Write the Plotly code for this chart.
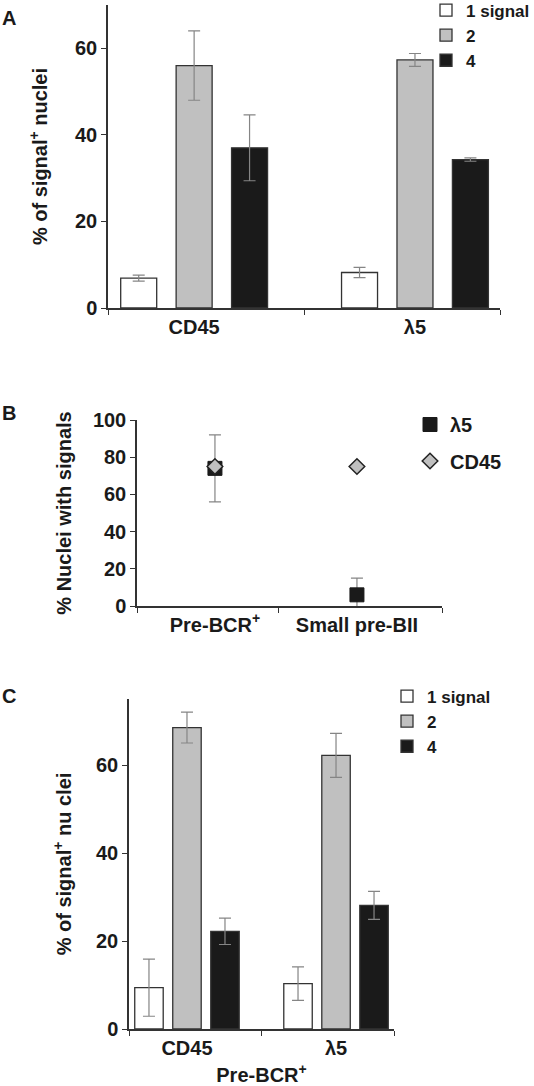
import plotly.graph_objects as go

# ---------------- data ----------------
# Panel A
a_categories = ["CD45", "λ5"]
a_series = ["1 signal", "2", "4"]
a_values = {"1 signal": [6.9, 8.2], "2": [56.0, 57.3], "4": [37.0, 34.3]}
a_errors = {"1 signal": [0.7, 1.2], "2": [8.0, 1.5], "4": [7.6, 0.4]}

# Panel B
b_categories = ["Pre-BCR<sup>+</sup>", "Small pre-BII"]
b_lambda5 = [74.0, 6.0]
b_lambda5_err = [18.0, 9.0]
b_cd45 = [75.0, 75.0]

# Panel C
c_categories = ["CD45", "λ5"]
c_series = ["1 signal", "2", "4"]
c_values = {"1 signal": [9.4, 10.3], "2": [68.5, 62.2], "4": [22.2, 28.1]}
c_errors = {"1 signal": [6.5, 3.8], "2": [3.5, 5.0], "4": [3.0, 3.2]}

# ---------------- styles ----------------
FONT = "Liberation Sans, Arial, Helvetica, sans-serif"
TXT = "#1a1a1a"
AX = "#333333"
fills = {"1 signal": "#ffffff", "2": "#c0c0c0", "4": "#1a1a1a"}
ERR = "#858585"
FS = 20

def bold(size=FS):
    return dict(family=FONT, size=size, color=TXT, weight="bold")

fig = go.Figure()

a_pos = list(range(len(a_categories)))
A_SLOT, A_W = 0.251, 0.163
for i, s in enumerate(a_series):
    fig.add_trace(go.Bar(
        x=a_pos, y=a_values[s], name=s,
        width=A_W, offset=(i - 1) * A_SLOT - A_W / 2,
        marker=dict(color=fills[s], line=dict(color="#333333", width=1.3)),
        error_y=dict(type="data", array=a_errors[s], color=ERR, thickness=1.2, width=6),
        xaxis="x", yaxis="y", legend="legend",
    ))

b_pos = list(range(len(b_categories)))
fig.add_trace(go.Scatter(
    x=b_pos, y=b_lambda5, name="λ5", mode="markers", legendgroup="l5",
    marker=dict(symbol="square", size=14, color="#1a1a1a", line=dict(color="#1a1a1a", width=1)),
    error_y=dict(type="data", array=b_lambda5_err, color=ERR, thickness=1.2, width=6),
    xaxis="x2", yaxis="y2", legend="legend2",
))
fig.add_trace(go.Scatter(
    x=b_pos, y=b_cd45, name="CD45", mode="markers", legendgroup="cd45",
    marker=dict(symbol="diamond", size=12, color="#c0c0c0", line=dict(color="#222222", width=1.5)),
    xaxis="x2", yaxis="y2", legend="legend2",
))

c_pos = list(range(len(c_categories)))
C_SLOT, C_W = 0.255, 0.191
for i, s in enumerate(c_series):
    fig.add_trace(go.Bar(
        x=c_pos, y=c_values[s], name=s,
        width=C_W, offset=(i - 1) * C_SLOT - C_W / 2,
        marker=dict(color=fills[s], line=dict(color="#333333", width=1.3)),
        error_y=dict(type="data", array=c_errors[s], color=ERR, thickness=1.2, width=6),
        xaxis="x3", yaxis="y3", legend="legend3",
    ))

W, H = 534, 1086

def px(x):
    return x / W

def py(y):
    return 1 - y / H

axis_common = dict(
    showgrid=False, zeroline=False, showline=True, linecolor=AX, linewidth=1.5,
    tickcolor=AX, tickwidth=1.2, automargin=False, tickfont=bold(),
)

def xaxis(domain, anchor, rng, tickpos, labels, boundaries, **kw):
    return dict(domain=domain, anchor=anchor, type="linear", range=rng,
                tickmode="array", tickvals=tickpos, ticktext=labels, ticks="",
                minor=dict(tickmode="array", tickvals=boundaries, ticks="outside",
                           ticklen=5, tickcolor=AX, tickwidth=1.2, showgrid=False),
                **axis_common, **kw)

def yaxis(domain, anchor, rng, tickvals, title, standoff, tsize):
    return dict(domain=domain, anchor=anchor, range=rng, tickvals=tickvals,
                ticks="outside", ticklen=5,
                title=dict(text=title, standoff=standoff, font=bold(tsize)),
                **axis_common)

def legend(x, y, size, order="normal", gap=0):
    return dict(x=x, y=y, xanchor="left", yanchor="top", xref="paper", yref="paper",
                bgcolor="rgba(0,0,0,0)", borderwidth=0, tracegroupgap=gap,
                font=bold(size), itemwidth=30, traceorder=order)

fig.update_layout(
    width=W, height=H,
    margin=dict(l=0, r=0, t=0, b=0, autoexpand=False),
    paper_bgcolor="white", plot_bgcolor="white",
    font=bold(),
    showlegend=True,
    xaxis=xaxis([px(108), px(500)], "y", [-0.39, 1.385], a_pos, a_categories,
                [-0.39, 0.5, 1.385]),
    yaxis=yaxis([py(308), py(5)], "x", [0, 70], [0, 20, 40, 60],
                "% of signal<sup>+</sup> nuclei", 22, 20),
    xaxis2=xaxis([px(137), px(442)], "y2", [-0.549, 1.599], b_pos, b_categories,
                 [-0.549, 0.451, 1.599]),
    yaxis2=yaxis([py(606), py(420)], "x2", [0, 100], [0, 20, 40, 60, 80, 100],
                 "% Nuclei with signals", 16, 20),
    xaxis3=xaxis([px(129), px(394)], "y3", [-0.389, 1.389], c_pos, c_categories,
                 [-0.389, 0.5, 1.389],
                 title=dict(text="Pre-BCR<sup>+</sup>", standoff=12, font=bold())),
    yaxis3=yaxis([py(1029), py(699)], "x3", [0, 75], [0, 20, 40, 60],
                 "% of signal<sup>+</sup> nu clei", 19, 20),
    legend=legend(px(426), py(-7.5), 17),
    legend2=legend(px(410), py(405), 20, order="grouped", gap=7.5),
    legend3=legend(px(387), py(678.5), 17),
    annotations=[
        dict(text="A", x=0, y=py(18), xref="paper", yref="paper", xanchor="left",
             yanchor="middle", showarrow=False, font=bold(20)),
        dict(text="B", x=0, y=py(413), xref="paper", yref="paper", xanchor="left",
             yanchor="middle", showarrow=False, font=bold(20)),
        dict(text="C", x=0, y=py(696), xref="paper", yref="paper", xanchor="left",
             yanchor="middle", showarrow=False, font=bold(20)),
    ],
)

fig.write_html("out.html", config={"displayModeBar": False},
               post_script="document.body.style.margin='0';")
